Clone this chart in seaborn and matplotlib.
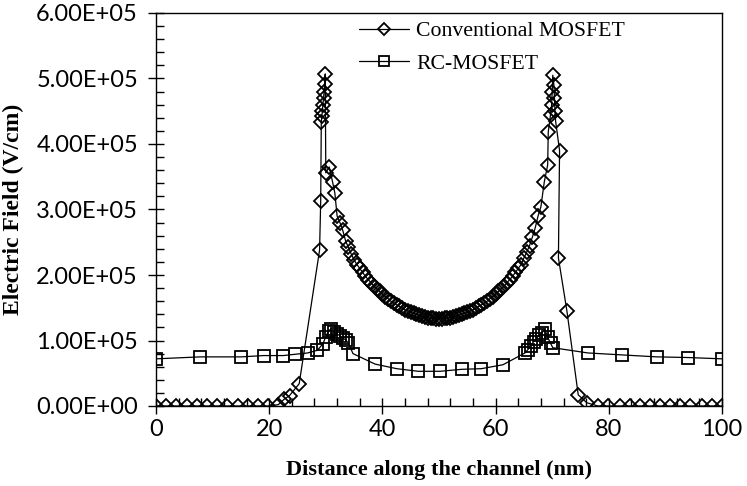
import matplotlib
matplotlib.use("Agg")
import matplotlib.pyplot as plt
import matplotlib.ticker as mticker
import seaborn as sns
import pandas as pd

# ---------------- data ----------------
conv_x = [0, 1.8, 3.6, 5.4, 7.2, 9.0, 10.8, 12.6, 14.4, 16.2, 18.0, 19.8, 21.6,
          22.6, 23.6, 25.3, 28.9, 29.1,
          29.2, 29.3, 29.4, 29.5, 29.6, 29.7, 29.8, 29.9,
          30.0, 30.6, 31.2, 31.6, 32.0, 32.5, 33.0, 33.5, 34.0, 34.5, 35.0, 35.5,
          36.0, 36.5, 37.0, 37.5, 38.0, 38.5, 39.0, 39.5, 40.0, 40.5, 41.0, 41.5,
          42.0, 42.5, 43.0, 43.5, 44.0, 44.5, 45.0, 45.5, 46.0, 46.5, 47.0, 47.5,
          48.0, 48.5, 49.0, 49.5, 50.0, 50.5, 51.0, 51.5, 52.0, 52.5, 53.0, 53.5,
          54.0, 54.5, 55.0, 55.5, 56.0, 56.5, 57.0, 57.5, 58.0, 58.5, 59.0, 59.5,
          60.0, 60.5, 61.0, 61.5, 62.0, 62.5, 63.0, 63.5, 64.0, 64.5, 65.0, 65.5,
          66.0, 66.5, 67.0, 67.5, 68.0, 68.6, 69.2,
          69.3, 69.7, 69.9, 70.0, 70.1, 70.3, 70.4, 70.5, 70.6,
          71.3, 71.1, 72.6, 74.6, 76.1,
          78.1, 79.9, 82.0, 83.7, 85.5, 87.3, 89.0, 90.8, 92.6, 94.3, 96.5, 98.2, 100]
conv_y = [0, 0, 0, 0, 0, 0, 0, 0, 0, 0, 0, 0, 2e3,
          1.0e4, 1.6e4, 3.4e4, 2.38e5, 3.13e5,
          4.33e5, 4.42e5, 4.50e5, 4.60e5, 4.70e5, 4.80e5, 4.92e5, 5.07e5,
          3.56e5, 3.65e5, 3.42e5, 3.25e5, 2.90e5, 2.80e5, 2.68e5, 2.52e5, 2.42e5, 2.32e5, 2.23e5, 2.16e5,
          2.10e5, 2.04e5, 1.98e5, 1.93e5, 1.88e5, 1.83e5, 1.79e5, 1.75e5, 1.71e5, 1.67e5, 1.64e5, 1.60e5,
          1.57e5, 1.545e5, 1.52e5, 1.495e5, 1.47e5, 1.45e5, 1.43e5, 1.415e5, 1.40e5, 1.385e5, 1.37e5, 1.36e5,
          1.35e5, 1.345e5, 1.34e5, 1.335e5, 1.335e5, 1.335e5, 1.34e5, 1.345e5, 1.35e5, 1.36e5, 1.37e5, 1.385e5,
          1.40e5, 1.415e5, 1.43e5, 1.45e5, 1.47e5, 1.495e5, 1.52e5, 1.545e5, 1.57e5, 1.60e5, 1.64e5, 1.67e5,
          1.71e5, 1.75e5, 1.79e5, 1.83e5, 1.88e5, 1.93e5, 1.98e5, 2.04e5, 2.10e5, 2.16e5, 2.26e5, 2.35e5,
          2.45e5, 2.58e5, 2.72e5, 2.90e5, 3.04e5, 3.42e5, 3.68e5,
          4.18e5, 4.45e5, 4.60e5, 4.80e5, 5.05e5, 4.90e5, 4.70e5, 4.50e5, 4.35e5,
          3.90e5, 2.26e5, 1.45e5, 1.7e4, 5e3,
          0, 0, 0, 0, 0, 0, 0, 0, 0, 0, 0, 0, 0]

rc_x = [0, 7.8, 15.1, 19.0, 22.5, 24.6, 26.8, 28.5,
        29.5, 30.0, 30.5, 31.0, 31.5, 32.0, 32.5, 33.0, 33.5, 34.0, 34.8,
        38.7, 42.5, 46.3, 50.2, 54.0, 57.5, 61.3,
        65.2, 65.7, 66.2, 66.7, 67.2, 67.7, 68.2, 68.7, 69.2, 69.7, 70.1,
        76.3, 82.3, 88.5, 94.0, 100]
rc_y = [7.2e4, 7.5e4, 7.5e4, 7.7e4, 7.7e4, 7.9e4, 8.1e4, 8.5e4,
        9.5e4, 1.06e5, 1.15e5, 1.18e5, 1.13e5, 1.10e5, 1.07e5, 1.04e5, 1.01e5, 9.6e4, 8.0e4,
        6.4e4, 5.7e4, 5.3e4, 5.3e4, 5.6e4, 5.7e4, 6.3e4,
        8.1e4, 8.6e4, 9.2e4, 9.8e4, 1.03e5, 1.08e5, 1.12e5, 1.17e5, 1.05e5, 9.6e4, 8.9e4,
        8.1e4, 7.8e4, 7.5e4, 7.4e4, 7.2e4]

series_names = ["Conventional MOSFET", "RC-MOSFET"]
x_label = "Distance along the channel (nm)"
y_label = "Electric Field (V/cm)"
x_ticks = [0, 20, 40, 60, 80, 100]
y_ticks = [0, 1e5, 2e5, 3e5, 4e5, 5e5, 6e5]

# ---------------- plot ----------------
sns.set_theme(style="white")
plt.rcParams["font.family"] = ["Liberation Serif", "DejaVu Serif"]

fig = plt.figure(figsize=(7.47, 4.86), dpi=100)
ax = fig.add_axes([156 / 747, 1 - 406 / 486, 566 / 747, 393 / 486])

df_conv = pd.DataFrame({"x": conv_x, "y": conv_y})
df_rc = pd.DataFrame({"x": rc_x, "y": rc_y})

common = dict(sort=False, estimator=None, color="black", linewidth=0.9,
              markerfacecolor="none", markeredgecolor="black",
              markeredgewidth=1.3, ax=ax)
sns.lineplot(data=df_conv, x="x", y="y", marker="D", markersize=7.2,
             label=series_names[0], **common)
sns.lineplot(data=df_rc, x="x", y="y", marker="s", markersize=9,
             label=series_names[1], **common)

ax.set_xlim(0, 100)
ax.set_ylim(0, 6e5)
ax.set_xticks(x_ticks)
ax.set_yticks(y_ticks)
ax.xaxis.set_minor_locator(mticker.MultipleLocator(4))
ax.yaxis.set_minor_locator(mticker.MultipleLocator(2e4))
ax.yaxis.set_major_formatter(mticker.FuncFormatter(lambda v, p: "{:.2E}".format(v)))

for s in ax.spines.values():
    s.set_color("black")
    s.set_linewidth(1.0)
    s.set_visible(True)

ax.tick_params(axis="both", which="major", direction="inout", length=12,
               width=1.0, color="black", bottom=True, left=True,
               top=False, right=False)
ax.tick_params(axis="both", which="minor", direction="in", length=5.5,
               width=1.0, color="black", bottom=True, left=True,
               top=False, right=False)
ax.tick_params(axis="y", which="major", pad=7)
ax.tick_params(axis="x", which="major", pad=3)
for lab in ax.get_xticklabels() + ax.get_yticklabels():
    lab.set_fontfamily(["Lato", "DejaVu Sans"])
    lab.set_fontsize(17)
    lab.set_color("black")

ax.set_xlabel(x_label, fontsize=16, fontweight="bold", color="black")
ax.set_ylabel(y_label, fontsize=17, fontweight="bold", color="black")
ax.xaxis.set_label_coords(0.5, (406 - 460) / 393)
ax.yaxis.set_label_coords((24 - 156) / 566, 0.5)
ax.grid(False)

leg = ax.legend(loc="upper left", bbox_to_anchor=(0.331, 1.018), frameon=False,
                fontsize=15.7, handlelength=2.3, handletextpad=0.35,
                labelspacing=0.56, borderpad=0.2, markerscale=0.8)
for t in leg.get_texts():
    t.set_color("black")

fig.savefig("out.png", dpi=100)
